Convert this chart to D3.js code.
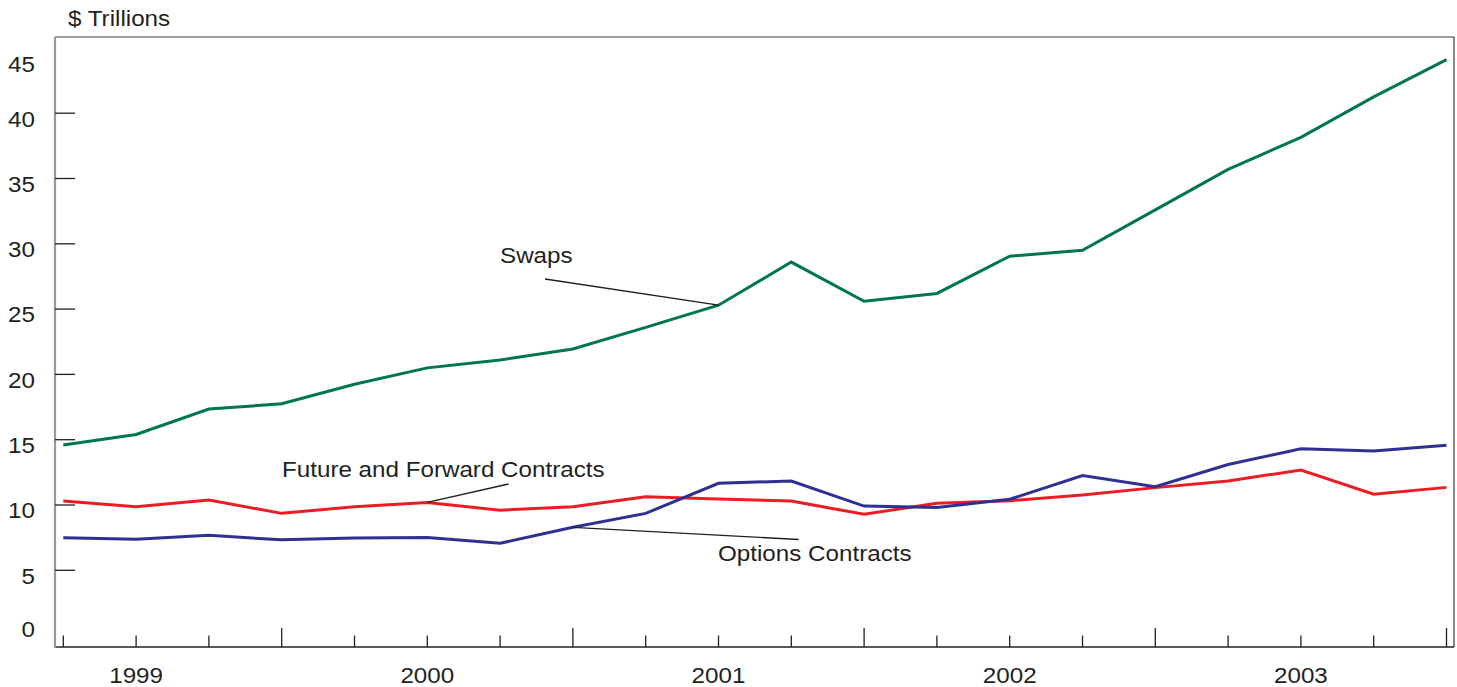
<!DOCTYPE html>
<html>
<head>
<meta charset="utf-8">
<script src="https://cdn.jsdelivr.net/npm/d3@7"></script>
<style>
  html, body { margin: 0; padding: 0; background: #fff; }
  svg { display: block; }
  text { font-family: "Liberation Sans", Arial, sans-serif; fill: #231f20; }
</style>
</head>
<body>
<svg id="chart" width="1457" height="687"></svg>
<script>
// ---- data ----
const quarters = [
  "1999Q1","1999Q2","1999Q3","1999Q4",
  "2000Q1","2000Q2","2000Q3","2000Q4",
  "2001Q1","2001Q2","2001Q3","2001Q4",
  "2002Q1","2002Q2","2002Q3","2002Q4",
  "2003Q1","2003Q2","2003Q3","2003Q4"
];
const yearLabels = ["1999","2000","2001","2002","2003"];
const yTicks = [0,5,10,15,20,25,30,35,40,45];
const swaps    = [14.6,15.4,17.35,17.75,19.25,20.5,21.1,21.95,23.6,25.3,28.6,25.6,26.2,29.05,29.5,32.6,35.7,38.15,41.25,44.1];
const futures  = [10.3,9.87,10.38,9.36,9.87,10.2,9.6,9.87,10.64,10.46,10.3,9.29,10.13,10.33,10.77,11.33,11.84,12.68,10.82,11.35];
const options  = [7.5,7.38,7.68,7.33,7.47,7.52,7.07,8.29,9.36,11.66,11.84,9.92,9.8,10.44,12.25,11.4,13.1,14.3,14.13,14.57];
const seriesNames = ["Swaps","Future and Forward Contracts","Options Contracts"];
const unitLabel = "$ Trillions";

// ---- layout ----
const svg = d3.select("#chart");
const frame = {left: 55, right: 1454, top: 37, bottom: 647};
const x = d3.scalePoint().domain(quarters).range([63.3, 1446.5]);
const y = d3.scaleLinear().domain([0, 45]).range([635.6, 47.9]);
const SX = 1.1, FS = 22;

function txt(g, s, px, py, anchor) {
  return g.append("text")
    .attr("transform", `translate(${px},${py}) scale(${SX},1)`)
    .attr("text-anchor", anchor || "start")
    .style("font-size", FS + "px")
    .text(s);
}

// frame top/right
svg.append("path")
  .attr("d", `M${frame.left},${frame.top}H${frame.right}V${frame.bottom}`)
  .attr("fill", "none").attr("stroke", "#3a3a3a").attr("stroke-width", 1.2);
// bottom axis line
svg.append("line")
  .attr("x1", frame.left).attr("x2", frame.right)
  .attr("y1", frame.bottom).attr("y2", frame.bottom)
  .attr("stroke", "#231f20").attr("stroke-width", 1.5);
// left axis line
svg.append("line")
  .attr("x1", frame.left).attr("x2", frame.left)
  .attr("y1", frame.top).attr("y2", frame.bottom + 1)
  .attr("stroke", "#999").attr("stroke-width", 2.2);

// y ticks (inside)
const gy = svg.append("g");
yTicks.filter(v => v > 0 && v < 45).forEach(v => {
  gy.append("line")
    .attr("x1", frame.left).attr("x2", frame.left + 20)
    .attr("y1", y(v)).attr("y2", y(v))
    .attr("stroke", "#231f20").attr("stroke-width", 1.3);
});
yTicks.forEach((v, i) => {
  let dy = 13.3;
  if (i === 0) dy = 1.8;
  if (i === yTicks.length - 1) dy = 23.8;
  txt(gy, String(v), 35, y(v) + dy, "end");
});
txt(svg, unitLabel, 68, 26, "start");

// x ticks (inward, upward)
const gx = svg.append("g");
quarters.forEach((q, i) => {
  const tall = (i % 4 === 3);
  gx.append("line")
    .attr("x1", x(q)).attr("x2", x(q))
    .attr("y1", frame.bottom).attr("y2", frame.bottom - (tall ? 19 : 11.5))
    .attr("stroke", "#231f20").attr("stroke-width", 1.3);
});
yearLabels.forEach(yr => {
  txt(gx, yr, x(yr + "Q2"), 683, "middle");
});

// lines
const line = d3.line().x((d, i) => x(quarters[i])).y(d => y(d));
const series = [
  {vals: futures, color: "#ed1c24"},
  {vals: options, color: "#2e3192"},
  {vals: swaps,   color: "#00774a"}
];
series.forEach(s => {
  svg.append("path").datum(s.vals)
    .attr("d", line)
    .attr("fill", "none")
    .attr("stroke", s.color)
    .attr("stroke-width", 3)
    .attr("stroke-linejoin", "miter");
});

// annotations with leader lines
const ann = [
  {name: seriesNames[0], tx: 500, ty: 263, lx: 545, ly: 279, q: "2001Q2", v: swaps[9]},
  {name: seriesNames[1], tx: 282, ty: 476.5, lx: 508.5, ly: 484, q: "2000Q2", v: futures[5]},
  {name: seriesNames[2], tx: 718, ty: 561, lx: 798.5, ly: 539.5, q: "2000Q4", v: options[7]}
];
ann.forEach(a => {
  svg.append("line")
    .attr("x1", a.lx).attr("y1", a.ly)
    .attr("x2", x(a.q)).attr("y2", y(a.v))
    .attr("stroke", "#231f20").attr("stroke-width", 1.4);
  txt(svg, a.name, a.tx, a.ty, "start");
});
</script>
</body>
</html>
